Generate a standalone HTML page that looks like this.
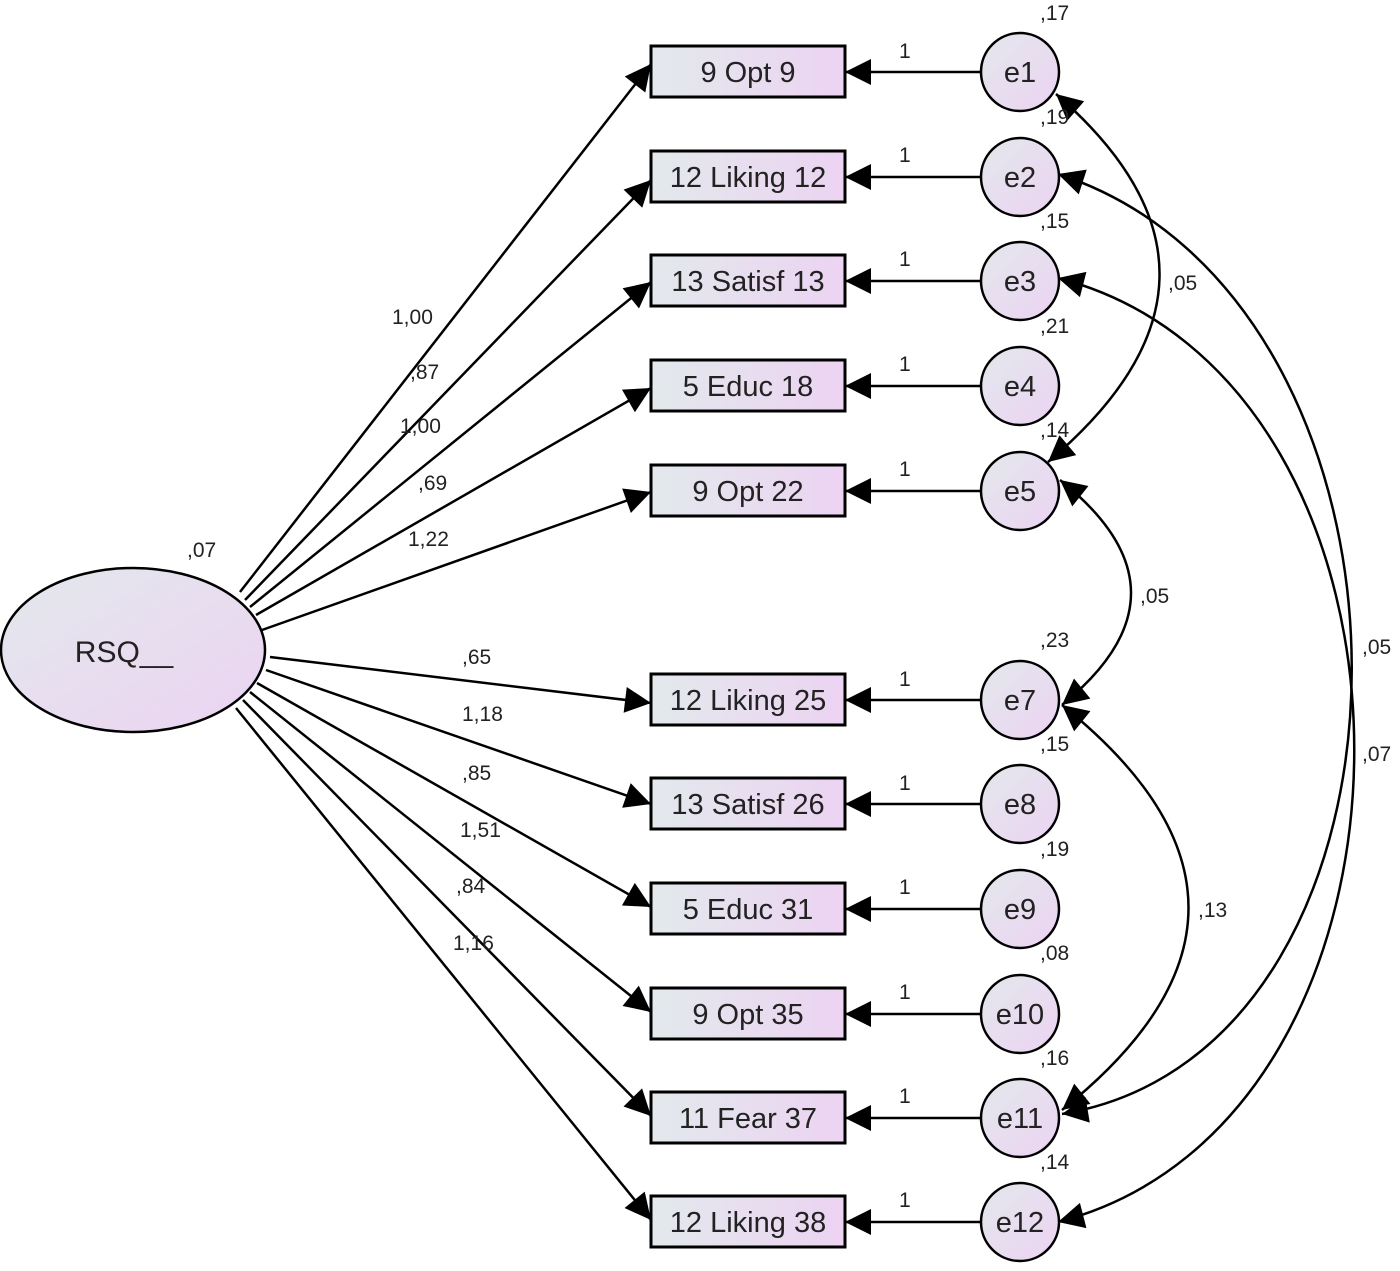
<!DOCTYPE html>
<html><head><meta charset="utf-8"><style>
body{margin:0;background:#fff}
svg text{font-family:"Liberation Sans",Arial,sans-serif;fill:#222}
</style></head><body>
<svg width="1400" height="1266" viewBox="0 0 1400 1266" xmlns="http://www.w3.org/2000/svg">
<defs>
<linearGradient id="g" x1="0" y1="0" x2="1" y2="1"><stop offset="0" stop-color="#e3e8ec"/><stop offset="1" stop-color="#ecd3f2"/></linearGradient>
<linearGradient id="gb" x1="0" y1="0" x2="1" y2="0"><stop offset="0" stop-color="#e3e9ec"/><stop offset="1" stop-color="#ecd3f2"/></linearGradient>
<marker id="b" viewBox="0 0 10 10" refX="10" refY="5" markerWidth="34" markerHeight="26" markerUnits="userSpaceOnUse" orient="auto-start-reverse"><path d="M0,0L10,5L0,10z" fill="#000"/></marker>
</defs>
<g stroke="#000" stroke-width="2.5" fill="none" marker-end="url(#b)">
<line x1="240" y1="592" x2="651" y2="64"/>
<line x1="245" y1="600" x2="651" y2="180"/>
<line x1="250" y1="607" x2="651" y2="282"/>
<line x1="256" y1="615" x2="651" y2="388"/>
<line x1="262" y1="630" x2="651" y2="492"/>
<line x1="270" y1="657" x2="651" y2="703"/>
<line x1="266" y1="670" x2="651" y2="804"/>
<line x1="257" y1="683" x2="651" y2="907"/>
<line x1="250" y1="692" x2="651" y2="1012"/>
<line x1="243" y1="700" x2="651" y2="1116"/>
<line x1="236" y1="708" x2="651" y2="1220"/>
<line x1="981" y1="72" x2="845" y2="72"/>
<line x1="981" y1="177" x2="845" y2="177"/>
<line x1="981" y1="281" x2="845" y2="281"/>
<line x1="981" y1="386" x2="845" y2="386"/>
<line x1="981" y1="491" x2="845" y2="491"/>
<line x1="981" y1="700" x2="845" y2="700"/>
<line x1="981" y1="804" x2="845" y2="804"/>
<line x1="981" y1="909" x2="845" y2="909"/>
<line x1="981" y1="1014" x2="845" y2="1014"/>
<line x1="981" y1="1118" x2="845" y2="1118"/>
<line x1="981" y1="1222" x2="845" y2="1222"/>
</g>
<g stroke="#000" stroke-width="2.5" fill="none" marker-start="url(#b)" marker-end="url(#b)">
<path d="M1056,94 Q1267,277 1048,462"/>
<path d="M1060,480 Q1201,592 1062,705"/>
<path d="M1062,705 Q1315,908 1062,1110"/>
<path d="M1058,174 C1449,300 1449,1050 1062,1114"/>
<path d="M1058,278 C1453,380 1453,1120 1058,1222"/>
</g>
<ellipse cx="133" cy="650" rx="132" ry="82" fill="url(#g)" stroke="#000" stroke-width="2.5"/>
<text x="124" y="662" font-size="30" text-anchor="middle">RSQ__</text>
<text x="187" y="557" font-size="21">,07</text>
<g stroke="#000" stroke-width="3" fill="url(#gb)">
<rect x="651" y="46" width="194" height="51"/>
<rect x="651" y="151" width="194" height="51"/>
<rect x="651" y="255" width="194" height="51"/>
<rect x="651" y="360" width="194" height="51"/>
<rect x="651" y="465" width="194" height="51"/>
<rect x="651" y="674" width="194" height="51"/>
<rect x="651" y="778" width="194" height="51"/>
<rect x="651" y="883" width="194" height="51"/>
<rect x="651" y="988" width="194" height="51"/>
<rect x="651" y="1092" width="194" height="51"/>
<rect x="651" y="1196" width="194" height="51"/>
</g>
<g font-size="29" text-anchor="middle">
<text x="748" y="82">9 Opt 9</text>
<text x="748" y="187">12 Liking 12</text>
<text x="748" y="291">13 Satisf 13</text>
<text x="748" y="396">5 Educ 18</text>
<text x="748" y="501">9 Opt 22</text>
<text x="748" y="710">12 Liking 25</text>
<text x="748" y="814">13 Satisf 26</text>
<text x="748" y="919">5 Educ 31</text>
<text x="748" y="1024">9 Opt 35</text>
<text x="748" y="1128">11 Fear 37</text>
<text x="748" y="1232">12 Liking 38</text>
</g>
<g stroke="#000" stroke-width="2.5" fill="url(#g)">
<circle cx="1020" cy="72" r="39"/><circle cx="1020" cy="177" r="39"/><circle cx="1020" cy="281" r="39"/><circle cx="1020" cy="386" r="39"/><circle cx="1020" cy="491" r="39"/><circle cx="1020" cy="700" r="39"/><circle cx="1020" cy="804" r="39"/><circle cx="1020" cy="909" r="39"/><circle cx="1020" cy="1014" r="39"/><circle cx="1020" cy="1118" r="39"/><circle cx="1020" cy="1222" r="39"/>
</g>
<g font-size="29" text-anchor="middle">
<text x="1020" y="82">e1</text><text x="1020" y="187">e2</text><text x="1020" y="291">e3</text><text x="1020" y="396">e4</text><text x="1020" y="501">e5</text><text x="1020" y="710">e7</text><text x="1020" y="814">e8</text><text x="1020" y="919">e9</text><text x="1020" y="1024">e10</text><text x="1020" y="1128">e11</text><text x="1020" y="1232">e12</text>
</g>
<g font-size="21">
<text x="1040" y="20">,17</text><text x="1040" y="124">,19</text><text x="1040" y="228">,15</text><text x="1040" y="333">,21</text><text x="1040" y="437">,14</text><text x="1040" y="647">,23</text><text x="1040" y="751">,15</text><text x="1040" y="856">,19</text><text x="1040" y="960">,08</text><text x="1040" y="1065">,16</text><text x="1040" y="1169">,14</text>
<text x="899" y="58">1</text><text x="899" y="162">1</text><text x="899" y="266">1</text><text x="899" y="371">1</text><text x="899" y="476">1</text><text x="899" y="686">1</text><text x="899" y="790">1</text><text x="899" y="894">1</text><text x="899" y="999">1</text><text x="899" y="1103">1</text><text x="899" y="1207">1</text>
<text x="392" y="324">1,00</text><text x="410" y="379">,87</text><text x="400" y="433">1,00</text><text x="418" y="490">,69</text><text x="408" y="546">1,22</text>
<text x="462" y="664">,65</text><text x="462" y="721">1,18</text><text x="462" y="780">,85</text><text x="460" y="837">1,51</text><text x="456" y="893">,84</text><text x="453" y="950">1,16</text>
<text x="1168" y="290">,05</text><text x="1140" y="603">,05</text><text x="1198" y="917">,13</text><text x="1362" y="654">,05</text><text x="1362" y="761">,07</text>
</g>
</svg>
</body></html>
